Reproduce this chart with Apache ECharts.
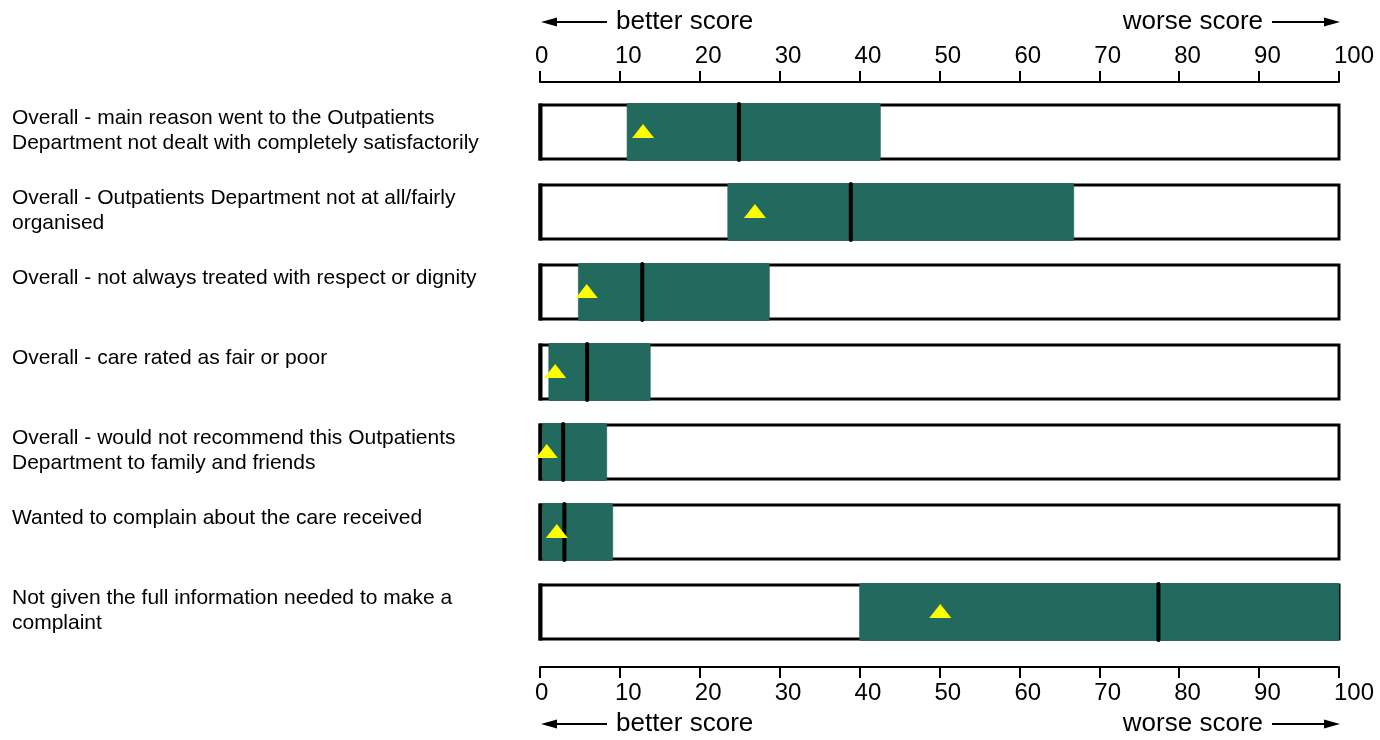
<!DOCTYPE html>
<html>
<head>
<meta charset="utf-8">
<script src="https://cdn.jsdelivr.net/npm/echarts@6/dist/echarts.min.js"></script>
<style>
html,body{margin:0;padding:0;background:#fff;}
#chart{width:1380px;height:740px;}
</style>
</head>
<body>
<div id="chart"></div>
<script>
const categories = [
  'Overall - main reason went to the Outpatients\nDepartment not dealt with completely satisfactorily',
  'Overall - Outpatients Department not at all/fairly\norganised',
  'Overall - not always treated with respect or dignity',
  'Overall - care rated as fair or poor',
  'Overall - would not recommend this Outpatients\nDepartment to family and friends',
  'Wanted to complain about the care received',
  'Not given the full information needed to make a\ncomplaint'
];
const lowerBound = [10.9, 23.5, 4.8, 1.1, 0.3, 0.3, 40.0];
const medianValue = [24.9, 38.9, 12.8, 5.9, 2.9, 3.05, 77.4];
const upperBound = [42.6, 66.8, 28.7, 13.8, 8.35, 9.1, 100];
const trustScore = [12.9, 26.9, 5.85, 1.9, 0.85, 2.1, 50.1];
const tickValues = [0, 10, 20, 30, 40, 50, 60, 70, 80, 90, 100];

const FONT = "'Liberation Sans', Arial, sans-serif";
const GREEN = '#226a5e';

const seriesData = categories.map((c, i) => [i, lowerBound[i], medianValue[i], upperBound[i], trustScore[i]]);

const chart = echarts.init(document.getElementById('chart'), null, {renderer: 'canvas'});

function renderItem(params, api) {
  const idx = api.value(0);
  const lo = api.value(1), med = api.value(2), hi = api.value(3), sc = api.value(4);
  const p0 = api.coord([0, idx]);
  const p100 = api.coord([100, idx]);
  const pLo = api.coord([lo, idx]);
  const pMed = api.coord([med, idx]);
  const pHi = api.coord([hi, idx]);
  const pSc = api.coord([sc, idx]);
  const cy = p0[1];
  const h = api.size([0, 1])[1] * 0.675;
  const top = cy - h / 2;
  return {
    type: 'group',
    children: [
      {type: 'rect', shape: {x: p0[0], y: top, width: p100[0] - p0[0], height: h},
       style: {fill: '#fff', stroke: '#000', lineWidth: 3}},
      {type: 'line', shape: {x1: p0[0] + 0.5, y1: top - 1.5, x2: p0[0] + 0.5, y2: top + h + 1.5},
       style: {stroke: '#000', lineWidth: 4}},
      {type: 'rect', shape: {x: pLo[0], y: top - 1.5, width: pHi[0] - pLo[0], height: h + 3, r: 1},
       style: {fill: GREEN, stroke: '#1c5a50', lineWidth: 0.6}},
      {type: 'line', shape: {x1: pMed[0], y1: top - 1, x2: pMed[0], y2: top + h + 1},
       style: {stroke: '#000', lineWidth: 4, lineCap: 'round'}},
      {type: 'polygon', shape: {points: [[pSc[0], cy - 8], [pSc[0] - 11, cy + 6], [pSc[0] + 11, cy + 6]]},
       style: {fill: '#ffff00'}},
      {type: 'text', style: {text: categories[idx], x: 12, y: top + 1, verticalAlign: 'top', align: 'left',
        font: '21px ' + FONT, lineHeight: 25, fill: '#000'}}
    ]
  };
}

function arrowGroup(y) {
  return [
    {type: 'line', shape: {x1: 553, y1: y, x2: 607, y2: y}, style: {stroke: '#000', lineWidth: 2}},
    {type: 'polygon', shape: {points: [[541, y], [557, y - 4.5], [557, y + 4.5]]}, style: {fill: '#000'}},
    {type: 'text', style: {text: 'better score', x: 616, y: y, verticalAlign: 'middle', align: 'left', font: '26px ' + FONT, fill: '#000'}},
    {type: 'text', style: {text: 'worse score', x: 1263, y: y, verticalAlign: 'middle', align: 'right', font: '26px ' + FONT, fill: '#000'}},
    {type: 'line', shape: {x1: 1272, y1: y, x2: 1328, y2: y}, style: {stroke: '#000', lineWidth: 2}},
    {type: 'polygon', shape: {points: [[1340, y], [1324, y - 4.5], [1324, y + 4.5]]}, style: {fill: '#000'}}
  ];
}

const axisCommon = {
  type: 'value', min: 0, max: 100, interval: 10,
  axisLine: {show: true, lineStyle: {color: '#000', width: 2}},
  axisTick: {show: true, length: 11, lineStyle: {color: '#000', width: 2}},
  splitLine: {show: false},
  axisLabel: {color: '#000', fontSize: 24, fontFamily: FONT, align: 'left', padding: [0, 0, 0, -5]}
};

chart.setOption({
  animation: false,
  backgroundColor: '#fff',
  grid: {left: 540, right: 41, top: 92, bottom: 88},
  xAxis: [
    Object.assign({}, axisCommon, {position: 'top', offset: 10, axisLabel: Object.assign({}, axisCommon.axisLabel, {margin: 14})}),
    Object.assign({}, axisCommon, {position: 'bottom', offset: 15, axisLabel: Object.assign({}, axisCommon.axisLabel, {margin: 14})})
  ],
  yAxis: {
    type: 'category', data: categories, inverse: true,
    axisLine: {show: false}, axisTick: {show: false}, axisLabel: {show: false}, splitLine: {show: false}
  },
  series: [{
    type: 'custom', xAxisIndex: 0, clip: false,
    renderItem: renderItem,
    encode: {x: [1, 2, 3, 4], y: 0},
    data: seriesData
  }],
  graphic: arrowGroup(22).concat(arrowGroup(724))
});
</script>
</body>
</html>
